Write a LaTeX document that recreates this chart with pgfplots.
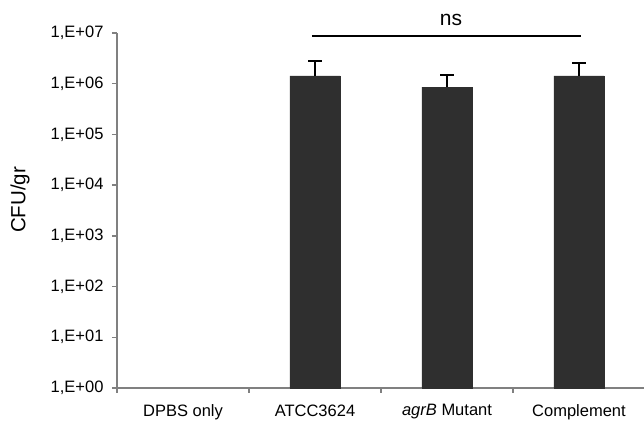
\documentclass[border=0pt]{standalone}
\usepackage{pgfplots}
\pgfplotsset{compat=1.18}
\usepackage{fontspec}
\setmainfont{Liberation Sans}
\definecolor{barc}{HTML}{2F2F2F}
\definecolor{axc}{HTML}{808080}
\begin{document}
\begin{tikzpicture}
\begin{axis}[
  scale only axis,
  width=528pt, height=355pt,
  ymode=log, ymin=1, ymax=1e7,
  xmin=-0.5, xmax=3.5,
  axis y line*=left, axis x line*=bottom,
  axis line style={axc, line width=1.3pt},
  ytick={1,10,100,1000,10000,100000,1000000,10000000},
  yticklabels={{1,E+00},{1,E+01},{1,E+02},{1,E+03},{1,E+04},{1,E+05},{1,E+06},{1,E+07}},
  yminorticks=false,
  xtick={0,1,2,3},
  xticklabels={DPBS only, ATCC3624, {\itshape agrB} Mutant, Complement},
  minor xtick={-0.5,0.5,1.5,2.5,3.5},
  major x tick style={draw=none},
  tick align=outside,
  major tick length=5pt, minor tick length=5pt,
  tick style={axc, line width=1.3pt},
  every tick label/.append style={black},
  yticklabel style={font=\fontsize{16.5}{18}\selectfont, xshift=-5pt},
  xticklabel style={font=\fontsize{16.5}{18}\selectfont, yshift=-8pt},
  ylabel={CFU/gr},
  every axis y label/.style={at={(rel axis cs:-0.1837,0.53)}, rotate=90, anchor=center, font=\fontsize{20.5}{22}\selectfont},
  clip=false,
]
\addplot[ybar, bar width=0.38, fill=barc, draw=barc,
  error bars/.cd, y dir=plus, y explicit,
  error bar style={black, line width=1.4pt},
  error mark options={rotate=90, mark size=7pt, line width=1.4pt, black}]
  coordinates {
  (1,1.42e6) +- (0,1.38e6)
  (2,8.6e5) +- (0,6.3e5)
  (3,1.42e6) +- (0,1.14e6)
  };
\draw[black, line width=1.3pt] (axis cs:0.977,8.7e6) -- (axis cs:3.015,8.7e6);
\node[font=\fontsize{21}{23}\selectfont] at (axis cs:2.03,1.8e7) {ns};
\coordinate (sw) at (rel axis cs:0,0);
\coordinate (ne) at (rel axis cs:1,1);
\end{axis}
\pgfresetboundingbox
\path[use as bounding box] ([xshift=-117pt,yshift=-33pt]sw) rectangle ([xshift=-1pt,yshift=33pt]ne);
\end{tikzpicture}
\end{document}
